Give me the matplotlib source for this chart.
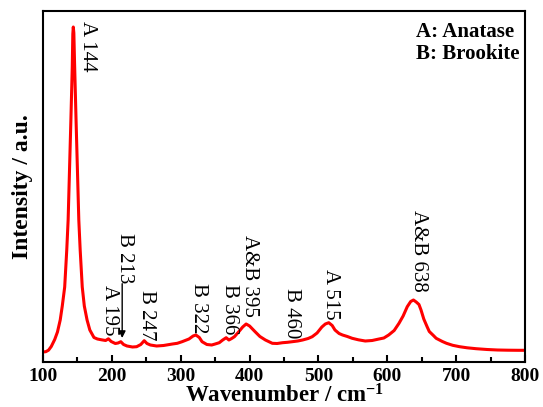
import matplotlib
matplotlib.use("Agg")
import matplotlib.pyplot as plt
from matplotlib.ticker import MultipleLocator, NullLocator

# Raman spectrum (wavenumber in cm^-1, intensity in arbitrary units)
wavenumber = [100, 104, 108, 112, 117, 121, 125, 128, 131.5, 134.5, 136.5, 138.5,
              140.5, 142.5, 143.3, 144, 144.8, 145.8, 148, 150, 152, 154, 157,
              160, 164, 168, 174, 179, 185, 191, 195, 199, 205, 209, 213, 217,
              222, 230, 236, 242, 247, 251, 256, 265, 275, 288, 295, 302, 312,
              318, 322, 327, 331, 338, 345, 350, 356, 361, 366, 370, 374, 378,
              384, 390, 395, 400, 408, 415, 423, 433, 440, 448, 455, 462, 470,
              477, 485, 491, 498, 505, 510, 515, 520, 524, 530, 535, 542, 549,
              558, 568, 578, 588, 595, 602, 610, 617, 623, 629, 634, 638, 642,
              646, 649, 653, 658, 661, 667, 671, 680, 686, 695, 705, 716, 729,
              745, 760, 775, 790, 800]
intensity = [100, 103, 118, 155, 225, 300, 420, 560, 750, 1120, 1420, 1920,
             2420, 2950, 3280, 3350, 3290, 3000, 2420, 1920, 1420, 1120, 750,
             560, 420, 320, 245, 230, 222, 215, 232, 205, 185, 190, 203, 175,
             160, 150, 153, 175, 213, 185, 170, 160, 165, 180, 187, 203, 230,
             260, 270, 245, 203, 175, 170, 180, 193, 220, 243, 220, 235, 253,
             300, 350, 380, 360, 303, 255, 220, 187, 185, 193, 197, 203, 210,
             220, 235, 253, 290, 350, 380, 393, 365, 320, 285, 270, 255, 237,
             222, 210, 215, 230, 240, 270, 315, 387, 460, 553, 605, 620, 600,
             575, 520, 430, 350, 305, 265, 237, 205, 187, 167, 153, 142, 133,
             125, 120, 118, 117, 117]

# Peak assignments and where each vertical label starts (x, top of text)
peak_labels = ["A 144", "A 195", "B 213", "B 247", "B 322", "B 366",
               "A&B 395", "B 460", "A 515", "A&B 638"]
label_x = [165, 196, 219, 250, 326, 371, 400, 461, 518, 646]
label_top = [3410, 770, 1290, 720, 790, 777, 1270, 737, 927, 1520]

serif = "Liberation Serif"
plt.rcParams["mathtext.fontset"] = "custom"
plt.rcParams["mathtext.rm"] = "Liberation Serif:bold"
plt.rcParams["mathtext.it"] = "Liberation Serif:bold"
plt.rcParams["mathtext.bf"] = "Liberation Serif:bold"

fig = plt.figure(figsize=(5.43, 4.07), dpi=100)
ax = fig.add_axes([43 / 543, 1 - 362 / 407, 482 / 543, 351 / 407])

ax.plot(wavenumber, intensity, color="#ff0000", lw=2.2, solid_joinstyle="round")

ax.set_xlim(100, 800)
ax.set_ylim(0, 3510)

for s in ax.spines.values():
    s.set_linewidth(1.5)

ax.xaxis.set_major_locator(MultipleLocator(100))
ax.xaxis.set_minor_locator(MultipleLocator(50))
ax.yaxis.set_major_locator(NullLocator())
ax.tick_params(axis="x", which="major", direction="in", length=5, width=1.5,
               pad=4, labelsize=14)
ax.tick_params(axis="x", which="minor", direction="in", length=3.5, width=1.5)
for lab in ax.get_xticklabels():
    lab.set_fontfamily(serif)
    lab.set_fontweight("bold")

ax.set_xlabel(r"Wavenumber / cm$^{-1}$", fontfamily=serif, fontweight="bold",
              fontsize=16.5, labelpad=0)
ax.set_ylabel("Intensity / a.u.", fontfamily=serif, fontweight="bold",
              fontsize=17)
ax.yaxis.set_label_coords(-0.021, 0.5)

for txt, x, y in zip(peak_labels, label_x, label_top):
    ax.text(x, y, txt, rotation=-90, ha="center", va="top",
            fontfamily=serif, fontsize=15)

ax.annotate("", xy=(215, 240), xytext=(215, 783),
            arrowprops=dict(arrowstyle="-|>", color="black", lw=1.0,
                            mutation_scale=10, shrinkA=0, shrinkB=0))

ax.text(0.773, 0.97, "A: Anatase\nB: Brookite", transform=ax.transAxes,
        ha="left", va="top", fontfamily=serif, fontweight="bold",
        fontsize=15, linespacing=1.15)

fig.savefig("out.png", dpi=100)
